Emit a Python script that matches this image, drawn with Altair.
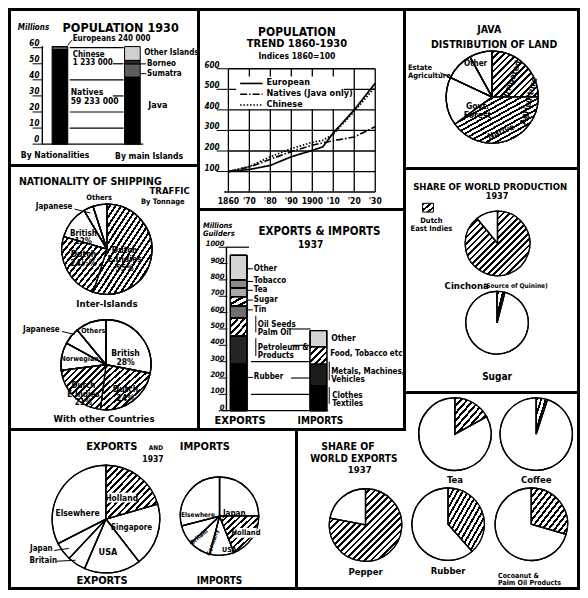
import math
import altair as alt
import pandas as pd

S = 0.979
FONT = "Liberation Sans Narrow, DejaVu Sans Condensed, Arial Narrow, Liberation Sans, sans-serif"
ONE = alt.Data(values=[{"a": 1}])

# ---------------- data ----------------
# Population 1930 (millions)
nat_parts = ["Natives", "Chinese", "Europeans"]
nat_vals = [59.233, 1.233, 0.240]
isl_parts = ["Java", "Sumatra", "Borneo", "Other Islands"]
isl_vals = [41.7, 8.25, 2.17, 8.59]
pop_groups = ["By Nationalities", "By main Islands"]
pop_ticks = [0, 10, 20, 30, 40, 50, 60]

# Population trend, indices 1860 = 100
trend_years = [1860, 1870, 1880, 1890, 1900, 1905, 1910, 1920, 1930]
trend_european = [100, 110, 130, 172, 203, 220, 288, 400, 530]
trend_natives = [100, 122, 160, 197, 228, 240, 250, 268, 318]
trend_chinese = [100, 125, 172, 212, 242, 252, 282, 392, 512]
trend_series = ["European", "Natives (Java only)", "Chinese"]
trend_yticks = [100, 200, 300, 400, 500, 600]
trend_xticks = [1860, 1870, 1880, 1890, 1900, 1910, 1920, 1930]
trend_xlabels = ["1860", "'70", "'80", "'90", "1900", "'10", "'20", "'30"]

# Java, distribution of land (%)
java_parts = ["Irrigated", "Native Agriculture", "Govt. Forest", "Estate Agriculture", "Other"]
java_vals = [25, 40, 17, 10, 8]

# Nationality of shipping traffic (% of tonnage)
ship_inter_parts = ["Dutch E. Indies", "Dutch", "British", "Japanese", "Others"]
ship_inter_vals = [55, 24.5, 12, 3.5, 5]
ship_other_parts = ["British", "Dutch", "Dutch E. Indies", "Norwegian", "Japanese", "Others"]
ship_other_vals = [28, 24, 21, 10, 6, 11]

# Exports & imports 1937 (million guilders)
exp_parts = ["Rubber", "Petroleum & Products", "Oil Seeds, Palm Oil", "Tin", "Sugar", "Tea", "Tobacco", "Other exports"]
exp_vals = [287, 170, 110, 74, 56, 54, 50, 150]
imp_parts = ["Clothes, Textiles", "Metals, Machines, Vehicles", "Food, Tobacco etc", "Other imports"]
imp_vals = [150, 137, 103, 100]
trade_groups = ["EXPORTS", "IMPORTS"]
trade_ticks = [0, 100, 200, 300, 400, 500, 600, 700, 800, 900, 1000]

# Share of world production 1937 (%)
share_parts = ["Dutch East Indies", "Rest of world"]
cinchona_vals = [89, 11]
sugar_vals = [4, 96]

# Exports and imports by country 1937 (%)
dest_exp_parts = ["Holland", "Singapore", "USA", "Britain", "Japan", "Elsewhere"]
dest_exp_vals = [20.5, 19, 17, 5.5, 5.5, 32.5]
dest_imp_parts = ["Japan", "Holland", "USA", "Germany", "Britain", "Elsewhere"]
dest_imp_vals = [25, 19, 10, 9, 8, 29]

# Share of world exports 1937 (% Dutch East Indies)
world_products = ["Tea", "Coffee", "Pepper", "Rubber", "Cocoanut & Palm Oil Products"]
world_dei_share = [17, 5, 78, 38.5, 29.5]


# ---------------- helpers ----------------
def P(v):
    return round(v * S, 2)


def hatch_for(w, h, d=2.3, frac=0.42):
    w = max(w, 1.0)
    h = max(h, 1.0)
    n = max(2, int(round(w * h / (d * math.hypot(w, h)))))
    stops = []
    for i in range(n):
        a, b, c = i / n, (i + frac) / n, (i + 1) / n
        stops += [{"offset": round(a, 5), "color": "black"},
                  {"offset": round(b, 5), "color": "black"},
                  {"offset": round(b, 5), "color": "white"},
                  {"offset": round(c, 5), "color": "white"}]
    return {"gradient": "linear", "x1": 0, "y1": 0, "x2": 1, "y2": 1, "stops": stops}


def wedge_box(vals, idx, r):
    tot = float(sum(vals))
    a0 = sum(vals[:idx]) / tot * 2 * math.pi
    a1 = a0 + vals[idx] / tot * 2 * math.pi
    pts = [(0.0, 0.0)]
    for t in range(61):
        a = a0 + (a1 - a0) * t / 60
        pts.append((r * math.sin(a), -r * math.cos(a)))
    xs = [p[0] for p in pts]
    ys = [p[1] for p in pts]
    return max(xs) - min(xs), max(ys) - min(ys)


class Panel:
    def __init__(self, ox, oy, w, h):
        self.ox, self.oy, self.w, self.h = ox, oy, w, h
        self.layers = []

    def X(self, v):
        return round((v - self.ox) * S, 2)

    def Y(self, v):
        return round((v - self.oy) * S, 2)

    def add(self, c):
        self.layers.append(c)

    def text(self, s, x, y, size=9, align="center", weight="bold", style="normal", angle=0):
        lines = s.split("\n")
        val = lines if len(lines) > 1 else s
        self.add(alt.Chart(ONE).mark_text(
            text=val, font=FONT, fontSize=size, fontWeight=weight, fontStyle=style,
            align=align, baseline="middle", angle=angle % 360, color="black",
            lineHeight=size * 1.05, clip=True,
        ).encode(x=alt.value(self.X(x)), y=alt.value(self.Y(y))))

    def line(self, x1, y1, x2, y2, w=1.2, dash=None):
        kw = dict(color="black", strokeWidth=w, clip=True)
        if dash:
            kw["strokeDash"] = dash
        self.add(alt.Chart(ONE).mark_rule(**kw).encode(
            x=alt.value(self.X(x1)), y=alt.value(self.Y(y1)),
            x2=alt.value(self.X(x2)), y2=alt.value(self.Y(y2))))

    def box(self, x1, y1, x2, y2, fill="white"):
        self.add(alt.Chart(ONE).mark_rect(fill=fill, clip=True).encode(
            x=alt.value(self.X(x1)), y=alt.value(self.Y(y1)),
            x2=alt.value(self.X(x2)), y2=alt.value(self.Y(y2))))

    def strip(self, y1, y2):
        # black column border drawn inside the view (pixel units)
        self.add(alt.Chart(ONE).mark_rect(fill="black", clip=True).encode(
            x=alt.value(0), x2=alt.value(3), y=alt.value(y1), y2=alt.value(y2)))

    def pie(self, cx, cy, r, parts, vals, hatched, sw=1.3):
        df = pd.DataFrame({"k": parts, "v": vals, "i": list(range(len(parts)))})
        base = alt.Chart(df).encode(
            theta=alt.Theta("v:Q", stack=True),
            order=alt.Order("i:Q"),
            x=alt.value(self.X(cx)), y=alt.value(self.Y(cy)))
        self.add(base.mark_arc(radius=P(r), stroke="black", strokeWidth=sw, fill="white", clip=True))
        for k in hatched:
            idx = parts.index(k)
            bw, bh = wedge_box(vals, idx, P(r))
            g = hatch_for(bw, bh)
            self.add(base.mark_arc(radius=P(r), stroke="black", strokeWidth=sw, clip=True).encode(
                fill=alt.condition(f"datum.k === '{k}'", alt.value(g), alt.value("transparent"))))

    def stacked(self, groups, parts_list, vals_list, colors, hatched, xS, yS, size, unit_px):
        rows = []
        for g, parts, vals in zip(groups, parts_list, vals_list):
            for i, (p, v) in enumerate(zip(parts, vals)):
                rows.append({"g": g, "k": p, "v": v, "i": i})
        df = pd.DataFrame(rows)
        allparts = [p for ps in parts_list for p in ps]
        base = alt.Chart(df).encode(
            x=alt.X("g:N", scale=xS, axis=None),
            y=alt.Y("v:Q", stack="zero", scale=yS, axis=None),
            order=alt.Order("i:Q"))
        self.add(base.mark_bar(size=size, stroke="black", strokeWidth=1, clip=True).encode(
            fill=alt.Fill("k:N", scale=alt.Scale(domain=allparts, range=[colors[p] for p in allparts]),
                          legend=None)))
        for k in hatched:
            v = dict(zip(df["k"], df["v"]))[k]
            g = hatch_for(size, v * unit_px)
            self.add(base.mark_bar(size=size, stroke="black", strokeWidth=1, clip=True).encode(
                fill=alt.condition(f"datum.k === '{k}'", alt.value(g), alt.value("transparent"))))

    def chart(self):
        return alt.layer(*self.layers).properties(width=self.w, height=self.h)


# ---------------- Panel 1: Population 1930 ----------------
p1 = Panel(5, 4, 186, 153)
yS1 = alt.Scale(domain=[0, 60], range=[p1.Y(140), p1.Y(41.5)], nice=False, zero=False)
xS1 = alt.Scale(domain=pop_groups, range=[p1.X(18), p1.X(166)], paddingInner=0, paddingOuter=0)
pop_colors = {"Natives": "black", "Chinese": "#d9d9d9", "Europeans": "black",
              "Java": "black", "Sumatra": "#5e5e5e", "Borneo": "#2a2a2a", "Other Islands": "#cfcfcf"}
p1.stacked(pop_groups, [nat_parts, isl_parts], [nat_vals, isl_vals], pop_colors, [],
           xS1, yS1, P(16), 1.64 * S)
tk1 = pd.DataFrame({"t": pop_ticks, "lab": [str(t) for t in pop_ticks]})
p1.add(alt.Chart(tk1).mark_text(align="right", font=FONT, fontSize=8, fontStyle="italic",
                                fontWeight="bold", dy=-4, clip=True).encode(
    y=alt.Y("t:Q", scale=yS1, axis=None), x=alt.value(p1.X(34)), text="lab:N"))
p1.add(alt.Chart(tk1).mark_rule(color="black", strokeWidth=1, clip=True).encode(
    y=alt.Y("t:Q", scale=yS1, axis=None), x=alt.value(p1.X(27)), x2=alt.value(p1.X(38))))
p1.add(alt.Chart(ONE).mark_rule(color="black", strokeWidth=1.4, clip=True).encode(
    x=alt.value(p1.X(37)), y=alt.Y(datum=0, scale=yS1, axis=None), y2=alt.Y2(datum=61)))
g_full = pd.DataFrame({"t": [10, 20, 40, 60]})
g_part = pd.DataFrame({"t": [30, 50]})
p1.add(alt.Chart(g_full).mark_rule(color="black", strokeWidth=1.2, clip=True).encode(
    y=alt.Y("t:Q", scale=yS1, axis=None), x=alt.value(p1.X(65)), x2=alt.value(p1.X(120))))
p1.add(alt.Chart(g_part).mark_rule(color="black", strokeWidth=1.2, clip=True).encode(
    y=alt.Y("t:Q", scale=yS1, axis=None), x=alt.value(p1.X(109)), x2=alt.value(p1.X(120))))
p1.add(alt.Chart(ONE).mark_rule(color="black", strokeWidth=1.2, clip=True).encode(
    y=alt.Y(datum=0, scale=yS1, axis=None), x=alt.value(p1.X(37)), x2=alt.value(p1.X(140))))
p1.text("Millions", 28, 21, size=8, style="italic")
p1.text("POPULATION 1930", 117, 21, size=12.5)
p1.text("Europeans 240 000", 68, 33, size=8, align="left")
p1.line(63, 39, 67, 34, w=1)
p1.text("Chinese\n1 233 000", 68, 49, size=8, align="left")
p1.text("Natives\n59 233 000", 66, 87, size=8.5, align="left")
p1.text("Other Islands", 141, 47, size=8, align="left")
p1.text("Borneo", 144, 58, size=8, align="left")
p1.line(137, 58, 143, 58, w=1)
p1.text("Sumatra", 144, 68, size=8, align="left")
p1.line(137, 68, 143, 68, w=1)
p1.text("Java", 155, 100, size=9, align="center")
p1.text("By Nationalities", 50, 151, size=8.5)
p1.text("By main Islands", 146, 152, size=8.5)

# ---------------- Panel 2: Population trend ----------------
p2 = Panel(199, 4, 203, 197)
xS2 = alt.Scale(domain=[1860, 1930], range=[p2.X(228), p2.X(378)], nice=False, zero=False)
yS2 = alt.Scale(domain=[0, 600], range=[p2.Y(189), p2.Y(63)], nice=False, zero=False)
vdf = pd.DataFrame({"yr": trend_xticks, "lab": trend_xlabels})
hdf = pd.DataFrame({"t": trend_yticks, "lab": [str(t) for t in trend_yticks]})
p2.add(alt.Chart(vdf).mark_rule(color="black", strokeWidth=1.3, clip=True).encode(
    x=alt.X("yr:Q", scale=xS2, axis=None), y=alt.Y(datum=0, scale=yS2, axis=None), y2=alt.Y2(datum=600)))
p2.add(alt.Chart(hdf).mark_rule(color="black", strokeWidth=1.3, clip=True).encode(
    y=alt.Y("t:Q", scale=yS2, axis=None), x=alt.X(datum=1860, scale=xS2, axis=None), x2=alt.X2(datum=1930)))
p2.add(alt.Chart(ONE).mark_rule(color="black", strokeWidth=1.5, clip=True).encode(
    y=alt.Y(datum=0, scale=yS2, axis=None), x=alt.X(datum=1858, scale=xS2, axis=None), x2=alt.X2(datum=1930)))
p2.add(alt.Chart(hdf).mark_rule(color="black", strokeWidth=1, clip=True).encode(
    y=alt.Y("t:Q", scale=yS2, axis=None), x=alt.value(p2.X(216)), x2=alt.value(p2.X(228))))
p2.add(alt.Chart(hdf).mark_text(align="right", font=FONT, fontSize=8, fontStyle="italic",
                                fontWeight="bold", dy=-3, clip=True).encode(
    y=alt.Y("t:Q", scale=yS2, axis=None), x=alt.value(p2.X(219)), text="lab:N"))
p2.add(alt.Chart(vdf).mark_text(font=FONT, fontSize=8.5, fontWeight="bold", clip=True).encode(
    x=alt.X("yr:Q", scale=xS2, axis=None), y=alt.value(p2.Y(198)), text="lab:N"))
trend_rows = []
for s_name, vals in zip(trend_series, [trend_european, trend_natives, trend_chinese]):
    for yr, v in zip(trend_years, vals):
        trend_rows.append({"year": yr, "idx": v, "s": s_name})
tdf = pd.DataFrame(trend_rows)
dashes = [[1, 0], [7, 2, 1.5, 2], [1.5, 1.8]]
p2.box(236, 71, 346, 104)
p2.add(alt.Chart(tdf).mark_line(color="black", strokeWidth=1.7, clip=True).encode(
    x=alt.X("year:Q", scale=xS2, axis=None), y=alt.Y("idx:Q", scale=yS2, axis=None),
    strokeDash=alt.StrokeDash("s:N", scale=alt.Scale(domain=trend_series, range=dashes), legend=None)))
for (lab, yy, dsh) in [("European", 77, None), ("Natives (Java only)", 88, [7, 2, 1.5, 2]), ("Chinese", 99, [1.5, 1.8])]:
    p2.line(240, yy + 1, 263, yy + 1, w=1.6, dash=dsh)
    p2.text(lab, 267, yy, size=9, align="left")
p2.text("POPULATION", 298, 25, size=12)
p2.text("TREND 1860-1930", 298, 38, size=11)
p2.text("Indices 1860=100", 298, 50, size=8.5)

# column 3 views start with a 3px black border strip drawn inside them
OX3 = 410 - 3 / S

# ---------------- Panel 3: Java land ----------------
p3 = Panel(OX3, 4, 174, 156)
p3.strip(0, 156)
p3.pie(498, 92, 47, java_parts, java_vals, ["Irrigated", "Native Agriculture"])
p3.text("JAVA", 495, 23, size=10.5)
p3.text("DISTRIBUTION OF LAND", 500, 39, size=10.5)
p3.text("Irrigated", 518, 73, size=8.5, angle=-70)
p3.text("Agriculture", 535, 96, size=8.5, angle=-76)
p3.text("Native", 507, 127, size=8.5, angle=-22)
p3.text("Other", 481, 58, size=8)
p3.text("Govt.\nForest", 483, 101, size=8.5)
p3.text("Estate\nAgriculture", 412, 62, size=7.5, align="left")
p3.line(445, 67, 457, 73, w=1)

# ---------------- Panel 4: Shipping ----------------
p4 = Panel(5, 164, 186, 261)
p4.pie(103, 248, 46, ship_inter_parts, ship_inter_vals, ["Dutch E. Indies", "Dutch"])
p4.pie(102, 366, 46, ship_other_parts, ship_other_vals, ["Dutch", "Dutch E. Indies"])
p4.text("NATIONALITY OF SHIPPING", 86, 179, size=10.5)
p4.text("TRAFFIC", 167, 189, size=9.5)
p4.text("By Tonnage", 160, 199.5, size=7.5)
p4.text("Others", 95, 196, size=7.5)
p4.text("Japanese", 49, 205, size=8)
p4.line(70, 207, 86, 211, w=1)
p4.text("British\n12%", 79, 232, size=8)
p4.text("Dutch\n24½%", 79, 253, size=8.5)
p4.text("Dutch\nE.Indies\n55%", 121, 249, size=8.5)
p4.text("Inter-Islands", 103, 304, size=9.5)
p4.text("Japanese", 36, 331, size=8)
p4.line(57, 332, 70, 335, w=1)
p4.text("Others", 89, 332, size=7)
p4.text("Norwegian", 75, 360, size=7)
p4.text("British\n28%", 122, 354, size=8.5)
p4.text("Dutch\n24%", 122, 391, size=8.5)
p4.text("Dutch\nE.Indies\n21%", 79, 388, size=8)
p4.text("With other Countries", 100, 421, size=9.5)

# ---------------- Panel 5: Exports & imports bars ----------------
p5 = Panel(199, 209, 203, 217)
yS5 = alt.Scale(domain=[0, 1000], range=[p5.Y(413), p5.Y(246)], nice=False, zero=False)
xS5 = alt.Scale(domain=trade_groups, range=[p5.X(197.75), p5.X(360.75)], paddingInner=0, paddingOuter=0)
trade_colors = {"Rubber": "black", "Petroleum & Products": "#242424", "Oil Seeds, Palm Oil": "#9a9a9a",
                "Tin": "#6f6f6f", "Sugar": "#9a9a9a", "Tea": "#a8a8a8", "Tobacco": "#8a8a8a",
                "Other exports": "#d4d4d4", "Clothes, Textiles": "black",
                "Metals, Machines, Vehicles": "#1c1c1c", "Food, Tobacco etc": "#9a9a9a",
                "Other imports": "#d4d4d4"}
p5.stacked(trade_groups, [exp_parts, imp_parts], [exp_vals, imp_vals], trade_colors,
           ["Oil Seeds, Palm Oil", "Sugar", "Food, Tobacco etc"], xS5, yS5, P(17), 0.167 * S)
tk5 = pd.DataFrame({"t": trade_ticks, "lab": [str(t) for t in trade_ticks]})
p5.add(alt.Chart(tk5).mark_text(align="right", font=FONT, fontSize=7.5, fontStyle="italic",
                                fontWeight="bold", dy=-3, clip=True).encode(
    y=alt.Y("t:Q", scale=yS5, axis=None), x=alt.value(p5.X(224)), text="lab:N"))
p5.add(alt.Chart(tk5).mark_rule(color="black", strokeWidth=1, clip=True).encode(
    y=alt.Y("t:Q", scale=yS5, axis=None), x=alt.value(p5.X(218)), x2=alt.value(p5.X(227))))
p5.add(alt.Chart(ONE).mark_rule(color="black", strokeWidth=1.4, clip=True).encode(
    x=alt.value(p5.X(226)), y=alt.Y(datum=0, scale=yS5, axis=None), y2=alt.Y2(datum=1000)))
p5.add(alt.Chart(ONE).mark_rule(color="black", strokeWidth=1.2, clip=True).encode(
    y=alt.Y(datum=1000, scale=yS5, axis=None), x=alt.value(p5.X(226)), x2=alt.value(p5.X(249))))
p5.add(alt.Chart(ONE).mark_rule(color="black", strokeWidth=1.2, clip=True).encode(
    y=alt.Y(datum=0, scale=yS5, axis=None), x=alt.value(p5.X(222)), x2=alt.value(p5.X(330))))
for vals_, xa in [([100, 300], 251), ([200], 292), ([400], 293), ([500], 289)]:
    p5.add(alt.Chart(pd.DataFrame({"t": vals_})).mark_rule(color="black", strokeWidth=1.1, clip=True).encode(
        y=alt.Y("t:Q", scale=yS5, axis=None), x=alt.value(p5.X(xa)), x2=alt.value(p5.X(312))))
p5.text("Millions\nGuilders", 202, 224, size=7.5, style="italic", align="left")
p5.text("EXPORTS & IMPORTS", 321, 230, size=11.5)
p5.text("1937", 312, 244, size=10)
for lab, yy in [("Other", 268), ("Tobacco", 281), ("Tea", 290), ("Sugar", 300), ("Tin", 310), ("Rubber", 379)]:
    p5.line(247, yy, 253, yy, w=1)
    p5.text(lab, 254, yy, size=8, align="left")
p5.line(256, 316, 256, 333, w=1)
p5.text("Oil Seeds\nPalm Oil", 258, 325, size=8, align="left")
p5.line(256, 339, 256, 357, w=1)
p5.text("Petroleum &\nProducts", 258, 349, size=8, align="left")
p5.text("Other", 333, 339, size=8.5, align="left")
p5.text("Food, Tobacco etc", 332, 355, size=8, align="left")
p5.line(331, 363, 331, 382, w=1)
p5.text("Metals, Machines,\nVehicles", 333, 373, size=8, align="left")
p5.line(331, 389, 331, 406, w=1)
p5.text("Clothes\nTextiles", 334, 398, size=8, align="left")
p5.text("EXPORTS", 240, 423, size=11)
p5.text("IMPORTS", 322, 423, size=10)

# ---------------- Panel 6: Share of world production ----------------
p6 = Panel(OX3, 167, 174, 221)
p6.strip(0, 221)
p6.pie(503.5, 242, 33, share_parts, cinchona_vals, ["Dutch East Indies"])
p6.pie(503, 323, 32, share_parts, sugar_vals, ["Dutch East Indies"])
p6.text("SHARE OF WORLD PRODUCTION", 496, 184, size=9.5)
p6.text("1937", 503, 194, size=9)
p6.add(alt.Chart(ONE).mark_rect(fill=hatch_for(P(11), P(9)), stroke="black", strokeWidth=1, clip=True).encode(
    x=alt.value(p6.X(427)), x2=alt.value(p6.X(438)), y=alt.value(p6.Y(201)), y2=alt.value(p6.Y(210))))
p6.text("Dutch\nEast Indies", 436, 219, size=7.5)
p6.text("Cinchona", 472, 285, size=9.5)
p6.text("(Source of Quinine)", 522, 285, size=6.5)
p6.text("Sugar", 503, 378, size=10)

# ---------------- Panel 7: Exports and imports by country ----------------
p7 = Panel(5, 434, 284, 156)
p7.pie(102, 524, 55, dest_exp_parts, dest_exp_vals, ["Holland"])
p7.pie(218, 521, 40, dest_imp_parts, dest_imp_vals, ["Holland"])
p7.text("EXPORTS", 108, 450, size=11)
p7.text("AND", 153, 451, size=6.5)
p7.text("IMPORTS", 203, 450, size=11)
p7.text("1937", 150, 463, size=8.5)
p7.box(104, 497, 133, 507)
p7.text("Holland", 118, 502, size=8.5)
p7.text("Singapore", 128, 533, size=8)
p7.text("USA", 104, 558, size=9)
p7.text("Elsewhere", 73, 518, size=8.5)
p7.text("Japan", 36, 555, size=8)
p7.line(49, 556, 64, 554, w=1)
p7.text("Britain", 38, 567, size=8)
p7.line(52, 567, 71, 566, w=1)
p7.text("EXPORTS", 98, 587, size=11)
p7.text("Japan", 233, 519, size=8)
p7.box(234, 533, 256, 543)
p7.text("Holland", 245, 538, size=7.5)
p7.text("USA", 228, 556, size=7)
p7.text("Germany", 211, 548, size=6, angle=-72)
p7.text("Britain", 197, 542, size=6, angle=-40)
p7.text("Elsewhere", 196, 520, size=6.5)
p7.text("IMPORTS", 218, 587, size=10)

# ---------------- Panel 8: Share of world exports ----------------
world = dict(zip(world_products, world_dei_share))
p8l = Panel(299, 434, 105, 156)
p8l.text("SHARE OF", 350, 450.5, size=10.5)
p8l.text("WORLD EXPORTS", 356, 462.5, size=10)
p8l.text("1937", 362, 474, size=9.5)
p8l.pie(368, 530, 37, share_parts, [world["Pepper"], 100 - world["Pepper"]], ["Dutch East Indies"])
p8l.text("Pepper", 368, 578, size=9.5)

p8r = Panel(OX3, 397, 174, 193)
p8r.strip(0, 37)  # border only where this panel meets the trade-bars panel
p8r.pie(460, 438, 37, share_parts, [world["Tea"], 100 - world["Tea"]], ["Dutch East Indies"])
p8r.pie(543, 438, 37, share_parts, [world["Coffee"], 100 - world["Coffee"]], ["Dutch East Indies"])
p8r.pie(453, 530, 37, share_parts, [world["Rubber"], 100 - world["Rubber"]], ["Dutch East Indies"])
p8r.pie(538, 530, 37, share_parts, [world["Cocoanut & Palm Oil Products"],
                                    100 - world["Cocoanut & Palm Oil Products"]], ["Dutch East Indies"])
p8r.text("Tea", 460, 485, size=9.5)
p8r.text("Coffee", 543, 485, size=9.5)
p8r.text("Rubber", 453, 578, size=9.5)
p8r.text("Cocoanut &\nPalm Oil Products", 504, 583, size=7, align="left")


# ---------------- layout ----------------
RES = dict(fill="independent", strokeDash="independent")


def Vf(*c):
    return alt.vconcat(*c, spacing=3, bounds="flush").resolve_scale(**RES)


def Hf(*c):
    return alt.hconcat(*c, spacing=3, bounds="flush").resolve_scale(**RES)


col1 = Vf(p1.chart(), p4.chart())
col2 = Vf(p2.chart(), p5.chart())
bottom = Hf(p7.chart(), p8l.chart())
col3 = Vf(p3.chart(), p6.chart(), p8r.chart())
top_row = alt.hconcat(col1, col2, spacing=3).resolve_scale(**RES)
left = alt.vconcat(top_row, bottom, spacing=3).resolve_scale(**RES)
chart = alt.hconcat(left, col3, spacing=0).resolve_scale(**RES).properties(
    background="black", padding=3).configure_view(fill="white", stroke="transparent", strokeWidth=0)

chart.save("out.html", embed_options={"renderer": "svg", "actions": False})
